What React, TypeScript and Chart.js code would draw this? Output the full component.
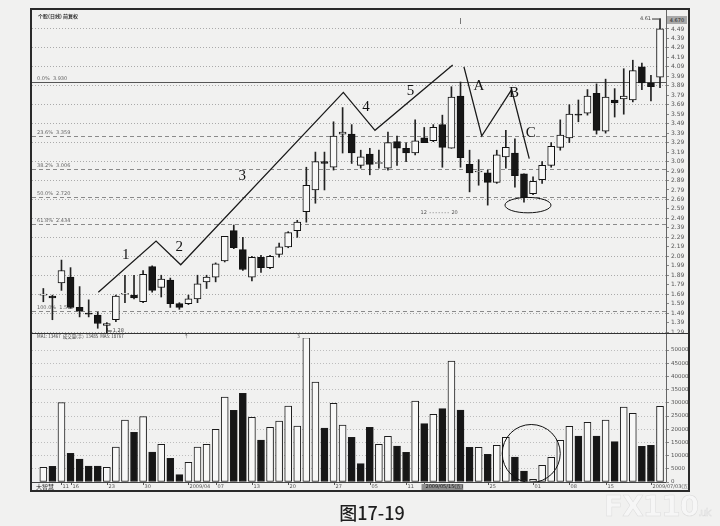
import React, { useEffect, useRef } from 'react';
import { Chart, registerables } from 'chart.js';
Chart.register(...registerables);

// ---------- data ----------
const opens = [1.68,1.67,1.81,1.87,1.55,1.49,1.47,1.36,1.42,1.69,
  1.68,1.61,1.98,1.76,1.84,1.59,1.59,1.64,1.82,1.87,
  2.04,2.36,2.16,1.87,2.08,1.97,2.11,2.19,2.36,2.56,
  2.79,3.09,3.03,3.38,3.38,3.05,3.17,3.07,3.02,3.30,
  3.23,3.18,3.34,3.31,3.48,3.23,3.78,3.06,2.98,2.97,
  2.87,3.14,3.18,2.96,2.75,2.90,3.05,3.24,3.34,3.59,
  3.60,3.81,3.41,3.74,3.75,3.74,4.09,3.92,3.98];
const closes = [1.69,1.65,1.94,1.55,1.51,1.48,1.38,1.38,1.67,1.70,
  1.65,1.90,1.73,1.85,1.59,1.55,1.64,1.80,1.87,2.01,
  2.30,2.18,1.95,2.08,1.97,2.09,2.19,2.34,2.45,2.84,
  3.09,3.07,3.36,3.40,3.18,3.14,3.06,3.08,3.29,3.23,
  3.18,3.31,3.29,3.45,3.24,3.77,3.13,2.97,2.99,2.87,
  3.16,3.24,2.94,2.71,2.88,3.05,3.25,3.37,3.59,3.58,
  3.78,3.42,3.77,3.71,3.78,4.05,3.92,3.88,4.49];
const highs = [1.75,1.68,2.05,1.97,1.77,1.63,1.50,1.39,1.68,1.89,
  1.89,1.94,1.99,1.89,1.86,1.60,1.68,1.89,1.89,2.02,
  2.30,2.42,2.29,2.09,2.10,2.10,2.23,2.35,2.47,3.03,
  3.19,3.19,3.51,3.66,3.48,3.21,3.23,3.21,3.40,3.36,
  3.29,3.53,3.45,3.48,3.58,3.88,3.93,3.21,3.11,3.00,
  3.21,3.42,3.33,2.96,2.93,3.09,3.29,3.53,3.69,3.74,
  3.85,3.91,3.96,3.86,4.07,4.16,4.13,4.00,4.60];
const lows = [1.61,1.42,1.73,1.54,1.45,1.45,1.33,1.28,1.40,1.60,
  1.64,1.60,1.71,1.66,1.55,1.53,1.58,1.60,1.75,1.82,
  2.03,2.17,1.94,1.83,1.92,1.96,2.08,2.18,2.29,2.45,
  2.65,2.79,3.00,3.18,3.07,3.02,2.95,3.02,3.00,3.05,
  3.09,3.16,3.29,3.30,3.03,3.23,3.03,2.77,2.84,2.63,
  2.86,3.02,2.82,2.66,2.74,2.86,3.03,3.21,3.29,3.51,
  3.58,3.38,3.39,3.56,3.59,3.72,3.85,3.73,3.87];
const volumes = [5560,5930,30050,10860,8710,6060,6060,5560,13260,23480,
  18810,24750,11360,14270,8960,2780,7450,13260,14270,19950,
  32200,27150,33590,24500,15910,20710,23110,28790,21210,54670,
  37880,20450,29800,21590,16920,6940,20710,14270,17300,13640,
  11240,30680,22100,25630,27780,45830,27270,13130,13130,10480,
  13890,16920,9470,4170,1010,6310,9340,15780,21090,17420,
  22600,17420,23480,15280,28410,26010,13510,13890,28660];
const volDown = [0,1,0,1,1,1,1,0,0,0,
  1,0,1,0,1,1,0,0,0,0,
  0,1,1,0,1,0,0,0,0,0,
  0,1,0,0,1,1,1,0,0,1,
  1,0,1,0,1,0,1,1,0,1,
  0,0,1,1,0,0,0,0,0,1,
  0,1,0,1,0,0,1,1,0];

const priceTicks = [1.29,1.39,1.49,1.59,1.69,1.79,1.89,1.99,2.09,2.19,2.29,2.39,2.49,2.59,2.69,2.79,2.89,
  2.99,3.09,3.19,3.29,3.39,3.49,3.59,3.69,3.79,3.89,3.99,4.09,4.19,4.29,4.39,4.49];
const volTicks = [0,5000,10000,15000,20000,25000,30000,35000,40000,45000,50000];

const xLabelIdx = [2,3,7,11,16,19,23,27,32,36,40,42,49,54,58,62,67];
const xLabelText = ['11','16','23','30','2009/04','07','13','20','27','05','11','2009/05/15(五)','25','01','08','15','2009/07/03(五)'];
const xHighlight = 42;

const fibPrices = [3.93,3.36,3.01,2.72,2.43,1.51];
const fibLabels = ['0.0%  3.930','23.6%  3.359','38.2%  3.006','50.0%  2.720','61.8%  2.434','100.0%  1.510'];

const wave1X = [6.06,12.43,15.15,33.08,36.57,45.14];
const wave1Y = [1.71,2.25,2.00,3.82,3.42,4.11];
const wave2X = [46.38,48.34,51.64,53.58];
const wave2Y = [4.09,3.36,3.85,3.12];
const waveLabels = ['1','2','3','4','5','A','B','C'];
const waveLabelX = [9.08,15.0,21.94,35.58,40.5,48.04,51.9,53.74];
const waveLabelY = [2.10,2.19,2.94,3.67,3.83,3.89,3.81,3.39];

const PAPER = '#f1f1f0';
const WHITE = '#f8f8f7';
const BLACK = '#161616';

export default function App() {
  const priceRef = useRef<HTMLCanvasElement>(null);
  const volRef = useRef<HTMLCanvasElement>(null);

  useEffect(() => {
    document.body.style.margin = '0';
    document.body.style.background = PAPER;
    Chart.defaults.font.family = 'DejaVu Sans';
    const idx = opens.map((_, i) => i);
    const xScale: any = { type: 'linear', min: -1.25, max: 68.66, offset: false, display: false };

    const pricePlugin = {
      id: 'priceDeco',
      beforeDatasetsDraw(chart: any) {
        const { ctx, scales: { y }, chartArea: a } = chart;
        ctx.save();
        fibPrices.forEach((p, i) => {
          const py = Math.round(y.getPixelForValue(p)) + 0.5;
          ctx.beginPath();
          ctx.strokeStyle = i === 0 ? '#555' : '#8a8a8a';
          ctx.setLineDash(i === 0 ? [] : [4, 3]);
          ctx.lineWidth = 1;
          ctx.moveTo(a.left, py); ctx.lineTo(a.right, py); ctx.stroke();
          ctx.setLineDash([]);
          ctx.fillStyle = '#666';
          ctx.font = '5px "DejaVu Sans"';
          ctx.textBaseline = 'bottom';
          ctx.fillText(fibLabels[i], a.left + 5, py - 1);
        });
        ctx.restore();
      },
      afterDatasetsDraw(chart: any) {
        const { ctx, scales: { x, y }, chartArea: a } = chart;
        ctx.save();
        ctx.fillStyle = '#111';
        ctx.font = '15px "Liberation Serif"';
        ctx.textAlign = 'center';
        ctx.textBaseline = 'middle';
        waveLabels.forEach((t, i) => ctx.fillText(t, x.getPixelForValue(waveLabelX[i]), y.getPixelForValue(waveLabelY[i])));
        // ellipse around the low
        ctx.beginPath();
        ctx.strokeStyle = '#111';
        ctx.lineWidth = 1;
        ctx.ellipse(x.getPixelForValue(53.44), y.getPixelForValue(2.63), 23, 7.7, 0, 0, Math.PI * 2);
        ctx.stroke();
        // small texts
        ctx.font = '5px "DejaVu Sans"';
        ctx.fillStyle = '#555';
        ctx.textAlign = 'left';
        ctx.fillText('12', x.getPixelForValue(41.6), y.getPixelForValue(2.55));
        ctx.fillText('20', x.getPixelForValue(45.0), y.getPixelForValue(2.55));
        ctx.setLineDash([1, 2]);
        ctx.beginPath();
        ctx.moveTo(x.getPixelForValue(42.6), y.getPixelForValue(2.55));
        ctx.lineTo(x.getPixelForValue(44.8), y.getPixelForValue(2.55));
        ctx.strokeStyle = '#888';
        ctx.stroke();
        ctx.setLineDash([]);
        // low marker
        const lx = x.getPixelForValue(7), ly = y.getPixelForValue(1.28);
        ctx.strokeStyle = '#333';
        ctx.beginPath(); ctx.moveTo(lx + 0.5, ly - 5); ctx.lineTo(lx + 0.5, ly - 2); ctx.lineTo(lx + 5, ly - 2); ctx.stroke();
        ctx.fillStyle = '#444';
        ctx.textBaseline = 'middle';
        ctx.fillText('1.28', lx + 6, ly - 2);
        // high marker
        const hx = x.getPixelForValue(68), hy = y.getPixelForValue(4.60);
        ctx.beginPath(); ctx.moveTo(hx - 8, hy + 0.5); ctx.lineTo(hx - 1, hy + 0.5); ctx.stroke();
        ctx.textAlign = 'right';
        ctx.fillText('4.61', hx - 9, hy);
        // cursor mark
        const cx = Math.round(x.getPixelForValue(45.95)) + 0.5;
        ctx.strokeStyle = '#777';
        ctx.beginPath(); ctx.moveTo(cx, a.top + 8); ctx.lineTo(cx, a.top + 14); ctx.stroke();
        // title
        ctx.textAlign = 'left';
        ctx.fillStyle = '#333';
        ctx.font = 'bold 5px "Noto Sans CJK SC"';
        ctx.fillText('个股(日线) 前复权', a.left + 6, a.top + 6);
        ctx.restore();
      },
    };

    const c1 = new Chart(priceRef.current!, {
      type: 'bar',
      data: {
        datasets: [
          { type: 'line', label: 'w1', data: wave1X.map((v, i) => ({ x: v, y: wave1Y[i] })), borderColor: '#1a1a1a', borderWidth: 1.3, pointRadius: 0, order: 0 } as any,
          { type: 'line', label: 'w2', data: wave2X.map((v, i) => ({ x: v, y: wave2Y[i] })), borderColor: '#1a1a1a', borderWidth: 1.3, pointRadius: 0, order: 0 } as any,
          {
            label: 'body',
            data: idx.map(i => ({ x: i, y: [Math.min(opens[i], closes[i]), Math.max(opens[i], closes[i])] })),
            backgroundColor: (c: any) => (closes[c.dataIndex] >= opens[c.dataIndex] ? WHITE : BLACK),
            borderColor: '#111', borderWidth: 1, borderSkipped: false, barThickness: 7, grouped: false, order: 1,
          } as any,
          {
            label: 'wick',
            data: idx.map(i => ({ x: i, y: [lows[i], highs[i]] })),
            backgroundColor: '#222', barThickness: 1, grouped: false, order: 2,
          } as any,
        ],
      },
      options: {
        responsive: false, animation: false, devicePixelRatio: 1,
        layout: { padding: { left: 32, top: 10, right: 30, bottom: 193 } },
        plugins: { legend: { display: false }, tooltip: { enabled: false } },
        scales: {
          x: xScale,
          y: {
            position: 'right', min: 1.28, max: 4.69,
            afterBuildTicks: (s: any) => { s.ticks = priceTicks.map(v => ({ value: v })); },
            afterFit: (s: any) => { s.width = 24; },
            ticks: { font: { size: 6 }, color: '#555', padding: 2, autoSkip: false, callback: (v: any) => Number(v).toFixed(2) },
            grid: { color: (c: any) => (c.index % 2 === 0 ? '#aaaaaa' : 'rgba(0,0,0,0)'), lineWidth: 1, tickLength: 3, tickColor: '#888' },
            border: { display: false, dash: [1, 2] },
          },
        } as any,
      },
      plugins: [pricePlugin],
    } as any);

    const volPlugin = {
      id: 'volDeco',
      afterDatasetsDraw(chart: any) {
        const { ctx, scales: { x, y }, chartArea: a } = chart;
        ctx.save();
        // circle
        ctx.beginPath();
        ctx.strokeStyle = '#111';
        ctx.lineWidth = 1;
        ctx.arc(x.getPixelForValue(53.8), y.getPixelForValue(10800), 29, 0, Math.PI * 2);
        ctx.stroke();
        // x labels
        ctx.font = '5px "DejaVu Sans"';
        ctx.textBaseline = 'middle';
        ctx.textAlign = 'left';
        xLabelIdx.forEach((v, i) => {
          const px = Math.round(x.getPixelForValue(v)) + 0.5;
          ctx.strokeStyle = '#555';
          ctx.beginPath(); ctx.moveTo(px, a.bottom); ctx.lineTo(px, a.bottom + 3); ctx.stroke();
          const t = xLabelText[i];
          if (v === xHighlight) {
            const w = ctx.measureText(t).width;
            ctx.fillStyle = '#8e8e8e';
            ctx.fillRect(px - 3, a.bottom + 2, w + 4, 6);
            ctx.fillStyle = '#222';
          } else ctx.fillStyle = '#555';
          ctx.fillText(t, px + 1, a.bottom + 5);
        });
        ctx.fillStyle = '#222';
        ctx.font = '6px "Noto Sans CJK SC"';
        ctx.fillText('大智慧', a.left + 4, a.bottom + 5);
        // header
        ctx.font = '4.5px "Noto Sans CJK SC"';
        ctx.fillStyle = '#444';
        ctx.fillText('MA1: 13467  成交量(手)  13485  MA5: 18767', a.left + 5, a.top - 2);
        ctx.fillText('↑', x.getPixelForValue(15.5), a.top - 2);
        ctx.fillText('3', x.getPixelForValue(28), a.top - 2);
        ctx.restore();
      },
    };

    const c2 = new Chart(volRef.current!, {
      type: 'bar',
      data: {
        datasets: [{
          label: 'vol',
          data: idx.map(i => ({ x: i, y: volumes[i] })),
          backgroundColor: (c: any) => (volDown[c.dataIndex] ? BLACK : WHITE),
          borderColor: '#1c1c1c', borderWidth: 1, borderSkipped: false, barThickness: 7, grouped: false,
        } as any],
      },
      options: {
        responsive: false, animation: false, devicePixelRatio: 1,
        layout: { padding: { left: 32, top: 338, right: 30, bottom: 44 } },
        plugins: { legend: { display: false }, tooltip: { enabled: false } },
        scales: {
          x: xScale,
          y: {
            position: 'right', min: 0, max: 54550,
            afterBuildTicks: (s: any) => { s.ticks = volTicks.map(v => ({ value: v })); },
            afterFit: (s: any) => { s.width = 24; },
            ticks: { font: { size: 5.5 }, color: '#555', padding: 2, autoSkip: false, callback: (v: any) => String(v) },
            grid: { color: '#bdbdbd', lineWidth: 1, tickLength: 3, tickColor: '#888' },
            border: { display: false, dash: [1, 2] },
          },
        } as any,
      },
      plugins: [volPlugin],
    } as any);

    return () => { c1.destroy(); c2.destroy(); };
  }, []);

  const abs = (s: any) => ({ position: 'absolute', pointerEvents: 'none', ...s }) as React.CSSProperties;
  return (
    <div style={{ position: 'relative', width: 720, height: 526, background: PAPER, overflow: 'hidden' }}>
      <canvas ref={priceRef} width={720} height={526} style={abs({ left: 0, top: 0, width: 720, height: 526 })} />
      <canvas ref={volRef} width={720} height={526} style={abs({ left: 0, top: 0, width: 720, height: 526 })} />
      <div style={abs({ left: 30, top: 8, width: 660, height: 484, border: '2px solid #2a2a2a', boxSizing: 'border-box' })} />
      <div style={abs({ left: 666, top: 10, width: 1, height: 472, background: '#666' })} />
      <div style={abs({ left: 32, top: 333, width: 656, height: 1, background: '#333' })} />
      <div style={abs({ left: 32, top: 482, width: 634, height: 1, background: '#444' })} />
      <div style={abs({ left: 667, top: 16, width: 20, height: 8, background: '#a9a9a9', color: '#222', font: '5px "DejaVu Sans"', lineHeight: '8px', textAlign: 'center' })}>4.670</div>
      <div style={abs({ left: 330, top: 500, width: 84, textAlign: 'center', font: '500 18px "Noto Sans CJK SC"', color: '#1e1e1e', lineHeight: '24px' })}>图17-19</div>
      <div style={abs({ left: 604, top: 492, font: 'bold 28px "DejaVu Sans"', color: '#f6f6f6', WebkitTextStroke: '0.5px #dcdcdc', lineHeight: '30px', letterSpacing: '-1px' })}>FX110<span style={{ fontSize: 10, fontWeight: 'normal' }}>.uk</span></div>
    </div>
  );
}
